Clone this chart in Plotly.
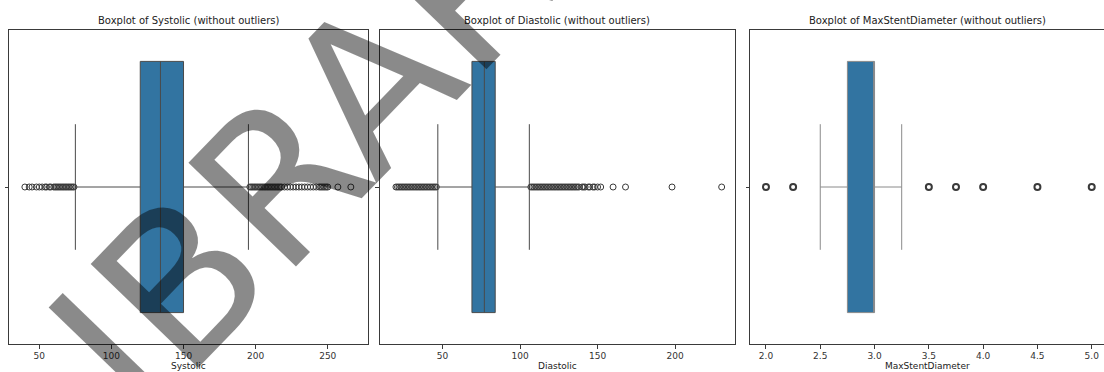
import plotly.graph_objects as go

# ---------------- data ----------------
variables = ["Systolic", "Diastolic", "MaxStentDiameter"]

sys_stats = dict(q1=120, median=134, q3=150, lowerfence=75, upperfence=195)
sys_outliers = [40, 43, 45, 48, 50, 52, 54, 55, 57, 58, 60, 61, 62, 63, 64, 65, 66, 67,
                68, 69, 70, 71, 72, 73, 74,
                196, 197, 198, 199, 200, 201, 202, 203, 204, 205, 206, 207, 208, 209, 210,
                211, 212, 213, 214, 215, 216, 217, 218, 220, 222, 224, 226, 228, 230, 232,
                234, 236, 238, 240, 242, 244, 245, 246, 247, 248, 249, 250, 257, 266]

dia_stats = dict(q1=69, median=77, q3=84, lowerfence=47, upperfence=106)
dia_outliers = [20, 21, 22, 23, 24, 25, 26, 27, 28, 29, 30, 31, 32, 33, 34, 35, 36, 37, 38,
                39, 40, 41, 42, 43, 44, 45, 46,
                107, 108, 109, 110, 111, 112, 113, 114, 115, 116, 117, 118, 119, 120, 121,
                122, 123, 124, 125, 126, 127, 128, 129, 130, 131, 132, 133, 134, 135, 136,
                137, 138, 140, 141, 142, 144, 145, 147, 148, 150, 152, 160, 168, 198, 230]

msd_stats = dict(q1=2.75, median=3.0, q3=3.0, lowerfence=2.5, upperfence=3.25)
msd_outliers = [2.0, 2.25, 3.5, 3.75, 4.0, 4.5, 5.0]

x_ranges = [[29.2, 277.9], [9.4, 238.6], [1.853, 5.113]]
x_ticks = [[50, 100, 150, 200, 250], [50, 100, 150, 200], [2.0, 2.5, 3.0, 3.5, 4.0, 4.5, 5.0]]
x_ticktext = [["50", "100", "150", "200", "250"], ["50", "100", "150", "200"],
              ["2.0", "2.5", "3.0", "3.5", "4.0", "4.5", "5.0"]]

watermark = "LIBRARY"

# ---------------- figure ----------------
W, H = 1104, 372
domains = [[9.3 / W, 368 / W], [379.5 / W, 735 / W], [750 / W, 1.0]]
ydom = [(H - 344) / H, (H - 30) / H]

fig = go.Figure()
stats = [sys_stats, dia_stats, msd_stats]
outs = [sys_outliers, dia_outliers, msd_outliers]
wcol = ["#4a4a4a", "#4a4a4a", "#8a8a8a"]
mline = [1, 1, 2]

for i in range(3):
    ax = "" if i == 0 else str(i + 1)
    s = stats[i]
    fig.add_trace(go.Box(
        orientation="h", y=[0], q1=[s["q1"]], median=[s["median"]], q3=[s["q3"]],
        lowerfence=[s["lowerfence"]], upperfence=[s["upperfence"]],
        boxpoints=False, width=0.8, whiskerwidth=0.5,
        fillcolor="#3274a1", line=dict(color=wcol[i], width=1),
        xaxis="x" + ax, yaxis="y" + ax, showlegend=False, hoverinfo="skip"))
    fig.add_trace(go.Scatter(
        x=outs[i], y=[0] * len(outs[i]), mode="markers",
        marker=dict(symbol="circle-open", size=6, color="#3a3a3a", line=dict(width=mline[i])),
        xaxis="x" + ax, yaxis="y" + ax, showlegend=False, hoverinfo="skip"))

axcommon = dict(showline=True, mirror=True, linecolor="#3a3a3a", linewidth=1,
                showgrid=False, zeroline=False, ticks="outside", ticklen=3.5,
                tickcolor="#3a3a3a", tickfont=dict(family="DejaVu Sans", size=9, color="#333"))

layout = dict(width=W, height=H, margin=dict(l=0, r=0, t=0, b=0),
              plot_bgcolor="white", paper_bgcolor="white", showlegend=False)
for i in range(3):
    ax = "" if i == 0 else str(i + 1)
    layout["xaxis" + ax] = dict(axcommon, domain=domains[i], range=x_ranges[i],
                                tickvals=x_ticks[i], ticktext=x_ticktext[i],
                                anchor="y" + ax)
    layout["yaxis" + ax] = dict(axcommon, domain=ydom, range=[-0.5, 0.5], tickvals=[0],
                                ticktext=[""], anchor="x" + ax,
                                mirror=(i != 2))
fig.update_layout(**layout)

ann = []
titles = ["Boxplot of %s (without outliers)" % v for v in variables]
centers_px = [188.6, 557.2, 927.0]
for i in range(3):
    ann.append(dict(text=titles[i], x=centers_px[i] / W, y=(H - 20.5) / H, xref="paper",
                    yref="paper", showarrow=False, xanchor="center", yanchor="middle",
                    font=dict(family="DejaVu Sans", size=10, color="#222")))
    ann.append(dict(text=variables[i], x=centers_px[i] / W, y=(H - 366) / H, xref="paper",
                    yref="paper", showarrow=False, xanchor="center", yanchor="middle",
                    font=dict(family="DejaVu Sans", size=9, color="#222")))

ann.append(dict(text=watermark, x=305 / W, y=(H - 155) / H, xref="paper", yref="paper",
                showarrow=False, xanchor="center", yanchor="middle", textangle=-46,
                font=dict(family="DejaVu Sans", size=205, color="rgba(0,0,0,0.46)")))
fig.update_layout(annotations=ann)

fig.write_html("out.html", config={"displayModeBar": False},
               post_script="document.body.style.margin='0';")
